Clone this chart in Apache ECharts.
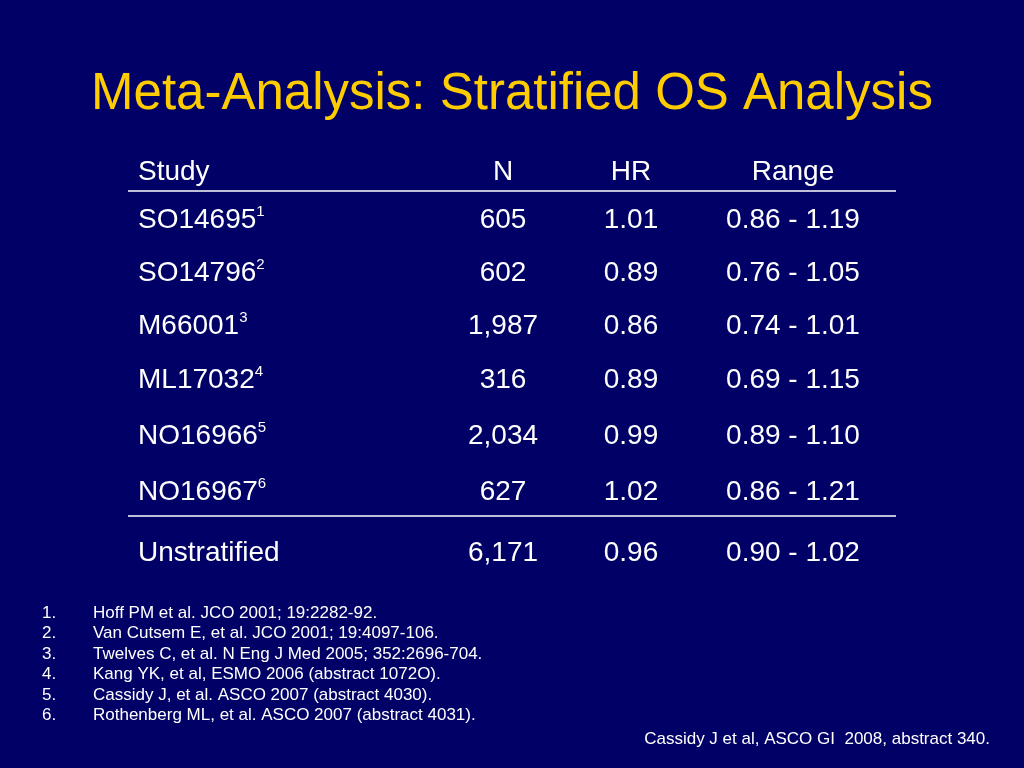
<!DOCTYPE html>
<html>
<head>
<meta charset="utf-8">
<script src="https://cdn.jsdelivr.net/npm/echarts@6/dist/echarts.min.js"></script>
<style>
html,body{margin:0;padding:0;background:#000066;}
#main{width:1024px;height:768px;}
</style>
</head>
<body>
<div id="main"></div>
<script>
// ---- data ----
var titleText = 'Meta-Analysis: Stratified OS Analysis';
var headers = ['Study', 'N', 'HR', 'Range'];
var studies = ['SO14695', 'SO14796', 'M66001', 'ML17032', 'NO16966', 'NO16967'];
var refNums = ['1', '2', '3', '4', '5', '6'];
var nValues = ['605', '602', '1,987', '316', '2,034', '627'];
var hrValues = [1.01, 0.89, 0.86, 0.89, 0.99, 1.02];
var rangeLow = [0.86, 0.76, 0.74, 0.69, 0.89, 0.86];
var rangeHigh = [1.19, 1.05, 1.01, 1.15, 1.10, 1.21];
var totalLabel = 'Unstratified';
var totalN = '6,171';
var totalHR = 0.96;
var totalLow = 0.90;
var totalHigh = 1.02;
var footnotes = [
  'Hoff PM et al. JCO 2001; 19:2282-92.',
  'Van Cutsem E, et al. JCO 2001; 19:4097-106.',
  'Twelves C, et al. N Eng J Med 2005; 352:2696-704.',
  'Kang YK, et al, ESMO 2006 (abstract 1072O).',
  'Cassidy J, et al. ASCO 2007 (abstract 4030).',
  'Rothenberg ML, et al. ASCO 2007 (abstract 4031).'
];
var citation = 'Cassidy J et al, ASCO GI  2008, abstract 340.';

// ---- layout ----
var FONT = "'Liberation Sans', Arial, Helvetica, sans-serif";
var WHITE = '#ffffff';
var colStudyX = 138, colNX = 503, colHRX = 631, colRangeX = 793;
var headerY = 172;
var rowYs = [220, 273, 326, 380, 436, 492];
var totalY = 553;
var lineX1 = 128, lineX2 = 896, line1Y = 191, line2Y = 516;
var tableFont = 28;
var fnY0 = 613, fnStep = 20.5, fnNumX = 42, fnTextX = 93, fnFont = 17;

function fmt(v) { return v.toFixed(2); }

var els = [];
function txt(x, y, s, align, size, color, rich) {
  var style = {
    text: s, x: x, y: y, fill: color || WHITE,
    fontFamily: FONT, fontSize: size,
    align: align || 'left', verticalAlign: 'middle'
  };
  if (rich) style.rich = rich;
  els.push({ type: 'text', silent: true, style: style });
}

// title
txt(512, 95, titleText, 'center', 51, '#FFCC00');

// header
txt(colStudyX, headerY, headers[0], 'left', tableFont);
txt(colNX, headerY, headers[1], 'center', tableFont);
txt(colHRX, headerY, headers[2], 'center', tableFont);
txt(colRangeX, headerY, headers[3], 'center', tableFont);

// lines
[line1Y, line2Y].forEach(function (ly) {
  els.push({ type: 'line', silent: true,
    shape: { x1: lineX1, y1: ly, x2: lineX2, y2: ly },
    style: { stroke: WHITE, lineWidth: 1.5 } });
});

var supRich = {
  m: { fontSize: tableFont, fontFamily: FONT, fill: WHITE, lineHeight: 32, verticalAlign: 'middle' },
  s: { fontSize: 15, fontFamily: FONT, fill: WHITE, lineHeight: 20, verticalAlign: 'top' }
};

for (var i = 0; i < studies.length; i++) {
  var y = rowYs[i];
  txt(colStudyX, y, '{m|' + studies[i] + '}{s|' + refNums[i] + '}', 'left', tableFont, WHITE, supRich);
  txt(colNX, y, nValues[i], 'center', tableFont);
  txt(colHRX, y, fmt(hrValues[i]), 'center', tableFont);
  txt(colRangeX, y, fmt(rangeLow[i]) + ' - ' + fmt(rangeHigh[i]), 'center', tableFont);
}

txt(colStudyX, totalY, totalLabel, 'left', tableFont);
txt(colNX, totalY, totalN, 'center', tableFont);
txt(colHRX, totalY, fmt(totalHR), 'center', tableFont);
txt(colRangeX, totalY, fmt(totalLow) + ' - ' + fmt(totalHigh), 'center', tableFont);

// footnotes
footnotes.forEach(function (f, k) {
  var fy = fnY0 + k * fnStep;
  txt(fnNumX, fy, (k + 1) + '.', 'left', fnFont);
  txt(fnTextX, fy, f, 'left', fnFont);
});

// citation
txt(990, 739, citation, 'right', fnFont);

var chart = echarts.init(document.getElementById('main'), null, { renderer: 'canvas' });
chart.setOption({
  backgroundColor: '#000066',
  animation: false,
  graphic: { elements: els }
});
</script>
</body>
</html>
